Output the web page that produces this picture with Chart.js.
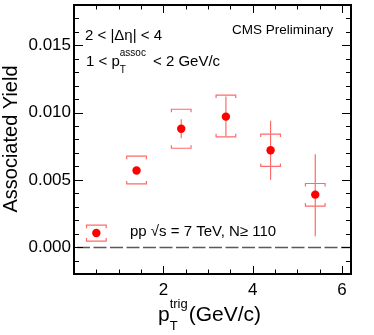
<!DOCTYPE html>
<html lang="en">
<head>
  <meta charset="UTF-8">
  <title>Associated Yield vs pT trig</title>
  <script src="https://cdn.jsdelivr.net/npm/chart.js"></script>
  <style>
  body {
    margin: 0;
    background: #ffffff;
  }
  canvas {
    display: block;
  }
</style>
</head>
<body>

  <canvas id="chart" width="374" height="335"></canvas>

  <script>
    // data
    const ptTrig = [0.5, 1.4, 2.4, 3.4, 4.4, 5.4];
    const yieldVals = [0.00105, 0.0057, 0.0088, 0.0097, 0.0072, 0.0039];
    const statLow = [0.00105, 0.0056, 0.0081, 0.00825, 0.0050, 0.0008];
    const statHigh = [0.00105, 0.0058, 0.0095, 0.0112, 0.0094, 0.0069];
    const sysLow = [0.00045, 0.0047, 0.00735, 0.0082, 0.0060, 0.00305];
    const sysHigh = [0.00163, 0.00676, 0.01025, 0.0113, 0.0084, 0.00473];
    const xTicks = [2, 4, 6];
    const yTicks = [0, 0.005, 0.010, 0.015];

    const RED = '#ff0000';
    const LIGHT = '#ff6a6a';
    const FONT = '"Liberation Sans", Arial, sans-serif';

    const rootStyle = {
      id: 'rootStyle',
      beforeDatasetsDraw(chart) {
        const { ctx, chartArea: a, scales: { x, y } } = chart;
        ctx.save();

        // dashed zero line
        ctx.strokeStyle = '#5a5a5a';
        ctx.lineWidth = 1.5;
        ctx.setLineDash([13, 3.5]);
        const y0 = Math.round(y.getPixelForValue(0)) + 0.5;
        ctx.beginPath();
        ctx.moveTo(a.left + 3, y0);
        ctx.lineTo(a.right, y0);
        ctx.stroke();
        ctx.setLineDash([]);

        // systematic brackets and stat bars
        ctx.strokeStyle = LIGHT;
        ctx.lineWidth = 1.2;
        ptTrig.forEach((v, i) => {
          const px = x.getPixelForValue(v);
          const hw = x.getPixelForValue(v + 0.22) - px;
          const yt = y.getPixelForValue(sysHigh[i]);
          const yb = y.getPixelForValue(sysLow[i]);
          ctx.beginPath();
          ctx.moveTo(px - hw, yt + 3); ctx.lineTo(px - hw, yt);
          ctx.lineTo(px + hw, yt); ctx.lineTo(px + hw, yt + 3);
          ctx.moveTo(px - hw, yb - 3); ctx.lineTo(px - hw, yb);
          ctx.lineTo(px + hw, yb); ctx.lineTo(px + hw, yb - 3);
          ctx.stroke();
          if (statHigh[i] > statLow[i]) {
            ctx.beginPath();
            ctx.moveTo(px, y.getPixelForValue(statLow[i]));
            ctx.lineTo(px, y.getPixelForValue(statHigh[i]));
            ctx.stroke();
          }
        });

        // inward ticks on all four sides
        ctx.strokeStyle = '#000';
        ctx.lineWidth = 1;
        ctx.beginPath();
        for (let k = -1; k <= 17; k++) {
          const py = Math.round(y.getPixelForValue(k / 1000)) + 0.5;
          const len = k % 5 === 0 ? 9 : 5;
          ctx.moveTo(a.left, py); ctx.lineTo(a.left + len, py);
          ctx.moveTo(a.right, py); ctx.lineTo(a.right - len, py);
        }
        for (let k = 1; k <= 12; k++) {
          const v = k / 2;
          const px = Math.round(x.getPixelForValue(v)) + 0.5;
          const len = v % 2 === 0 ? 8 : 4.5;
          ctx.moveTo(px, a.bottom); ctx.lineTo(px, a.bottom - len);
          ctx.moveTo(px, a.top); ctx.lineTo(px, a.top + len);
        }
        ctx.stroke();

        // frame
        ctx.lineWidth = 2;
        ctx.strokeRect(a.left, a.top, a.right - a.left, a.bottom - a.top);
        ctx.restore();
      },
      afterDraw(chart) {
        const { ctx } = chart;
        ctx.save();
        ctx.fillStyle = '#000';
        ctx.textBaseline = 'alphabetic';

        ctx.font = '13.5px ' + FONT;
        ctx.fillText('CMS Preliminary', 232, 34);

        ctx.font = '15px ' + FONT;
        ctx.fillText('2 < |\u0394\u03b7| < 4', 85, 40);

        ctx.fillText('1 < p', 86, 66);
        let w = ctx.measureText('1 < p').width;
        ctx.font = '10px ' + FONT;
        ctx.fillText('assoc', 86 + w, 56);
        ctx.fillText('T', 86 + w, 73);
        ctx.font = '15px ' + FONT;
        ctx.fillText('< 2 GeV/c', 153, 66);

        ctx.fillText('pp \u221as = 7 TeV, N\u2265 110', 130, 236);

        // x title
        ctx.font = '21px ' + FONT;
        ctx.fillText('p', 158, 321);
        w = ctx.measureText('p').width;
        ctx.font = '13px ' + FONT;
        ctx.fillText('trig', 158 + w, 308);
        ctx.fillText('T', 158 + w, 330);
        const w2 = ctx.measureText('trig').width;
        ctx.font = '21px ' + FONT;
        ctx.fillText('(GeV/c)', 158 + w + w2 + 1, 321);

        // y title
        ctx.translate(17, 139);
        ctx.rotate(-Math.PI / 2);
        ctx.font = '20px ' + FONT;
        ctx.textAlign = 'center';
        ctx.fillText('Associated Yield', 0, 0);
        ctx.restore();
      }
    };

    const ctx = document.getElementById('chart').getContext('2d');
    const chart = new Chart(ctx, {
      type: 'scatter',
      data: {
        datasets: [{
          data: ptTrig.map((v, i) => ({ x: v, y: yieldVals[i] })),
          backgroundColor: RED,
          borderWidth: 0,
          pointRadius: 4.2
        }]
      },
      options: {
        responsive: false,
        devicePixelRatio: 1,
        animation: false,
        layout: { padding: { top: 5, right: 23, left: 0, bottom: 0 } },
        plugins: { legend: { display: false }, tooltip: { enabled: false } },
        scales: {
          x: {
            type: 'linear',
            min: 0,
            max: 6.2,
            afterBuildTicks: s => { s.ticks = xTicks.map(v => ({ value: v })); },
            afterFit: s => { s.height = 61; s.paddingLeft = 0; s.paddingRight = 0; },
            grid: { display: false, drawTicks: false },
            border: { display: false },
            ticks: { color: '#000', padding: 6, font: { size: 17, family: FONT } }
          },
          y: {
            type: 'linear',
            min: -0.002,
            max: 0.018,
            afterBuildTicks: s => { s.ticks = yTicks.map(v => ({ value: v })); },
            afterFit: s => { s.width = 74; s.paddingTop = 0; s.paddingBottom = 0; },
            grid: { display: false, drawTicks: false },
            border: { display: false },
            ticks: {
              color: '#000',
              padding: 3,
              font: { size: 17, family: FONT },
              callback: v => v.toFixed(3)
            }
          }
        }
      },
      plugins: [rootStyle]
    });
  </script>

</body>
</html>
